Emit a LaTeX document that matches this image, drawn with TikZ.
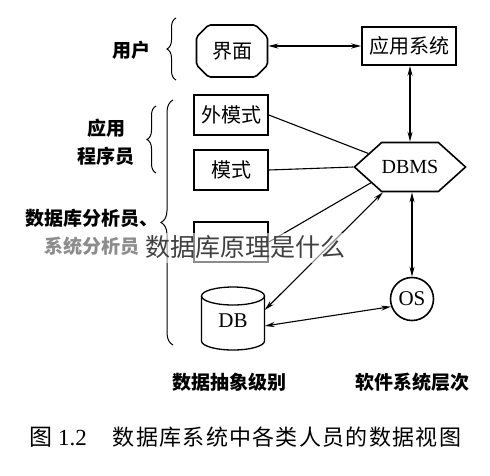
\documentclass[tikz,border=0pt]{standalone}
\usepackage{fontspec}
\setmainfont{Liberation Serif}
\newfontfamily\cjk{Noto Sans CJK SC}
\usetikzlibrary{positioning,arrows.meta,shapes.misc,shapes.symbols,decorations.pathreplacing}
\tikzset{
  schema/.style={draw, line width=1.6pt, minimum width=74pt, minimum height=40pt, inner sep=0pt,
    font=\cjk\fontsize{20}{20}\selectfont},
  role/.style={font=\cjk\bfseries\fontsize{19}{28}\selectfont, align=center, inner sep=0pt},
  conn/.style={line width=1.1pt},
  dconn/.style={line width=1.1pt, {Stealth[length=10pt,width=5pt]}-{Stealth[length=10pt,width=5pt]}},
  lbrace/.style={line width=1pt, decorate, decoration={brace, amplitude=#1}},
  lbrace/.default=8pt
}

\begin{document}
\begin{tikzpicture}[x=1pt, y=-1pt]
\useasboundingbox (0,0) rectangle (490,475);
% left: users and braces
\node[role] (yonghu) at (131,50) {用户};
\node[role] (chengxu) at (106,142) {应用\\程序员};
\node[role] (fenxi) at (92,232) {数据库分析员、\\系统分析员};
\draw[lbrace=9pt] (176,80) -- (176,18);
\draw[lbrace=9pt] (156,173) -- (156,106);
\draw[lbrace=12pt] (173,345) -- (173,100);
% data abstraction levels
\node[draw, line width=1.6pt, chamfered rectangle, chamfered rectangle xsep=6pt,
  chamfered rectangle ysep=6pt, rounded corners=2pt, minimum width=71pt, minimum height=52pt,
  inner sep=0pt, font=\cjk\fontsize{20}{20}\selectfont] (jiemian) at (232,51) {界面};
\node[schema] (waimoshi) at (231,115) {外模式};
\node[schema] (moshi) at (231,170) {模式};
\node[schema] (neimoshi) at (231,242) {};
\node[minimum width=63pt, minimum height=63pt, inner sep=0pt,
  font=\fontsize{21}{21}\selectfont] (db) at (233,321) {DB};
\draw[line width=1.3pt] (233,296) ellipse [x radius=31.5, y radius=9];
\draw[line width=1.3pt] (201.5,296) -- (201.5,341)
  arc[start angle=180, end angle=0, x radius=31.5, y radius=9] -- (264.5,296);
% software levels
\node[schema, minimum width=94pt, minimum height=38pt] (yingyong) at (409,46) {应用系统};
\node[draw, line width=1.6pt, signal, signal to=west and east, signal pointer angle=84,
  minimum width=95pt, minimum height=49pt, inner sep=0pt,
  font=\fontsize{20}{20}\selectfont] (dbms) at (410,167) {DBMS};
\node[draw, circle, line width=1.6pt, minimum size=43pt, inner sep=0pt,
  font=\fontsize{21}{21}\selectfont] (os) at (412,299) {OS};
% connectors
\draw[dconn] (jiemian.east |- yingyong.west) -- (yingyong.west);
\draw[dconn] (yingyong.south -| dbms.north) -- (dbms.north);
\draw[conn] (waimoshi.east) -- (dbms.162);
\draw[conn] (moshi.east) -- (dbms.west);
\draw[conn] (neimoshi.east) -- (dbms.-158);
\draw[dconn] ([yshift=11pt]db.east) -- (dbms.-137);
\draw[dconn] (dbms.south -| os.north) -- (os.north);
\draw[dconn] ([yshift=-5pt]db.east) -- (os.200);
% bottom labels and caption
\node[font=\cjk\bfseries\fontsize{19}{19}\selectfont] (jibie) at (229,382) {数据抽象级别};
\node[font=\cjk\bfseries\fontsize{19}{19}\selectfont] (cengci) at (412,382) {软件系统层次};
\node[font=\fontsize{23}{23}\selectfont] (tuhao) at (58,437) {{\cjk 图}~1.2};
\node[font=\cjk\fontsize{22}{22}\selectfont\addfontfeature{LetterSpace=6}] (biaoti) at (287,437)
  {数据库系统中各类人员的数据视图};
% watermark
\fill[white, fill opacity=0.55] (45,233) rectangle (350,263);
\node[font=\cjk\fontsize{25}{25}\selectfont, text=black!75, inner sep=0pt] (shuiyin) at (245,247)
  {数据库原理是什么};
\end{tikzpicture}
\end{document}
